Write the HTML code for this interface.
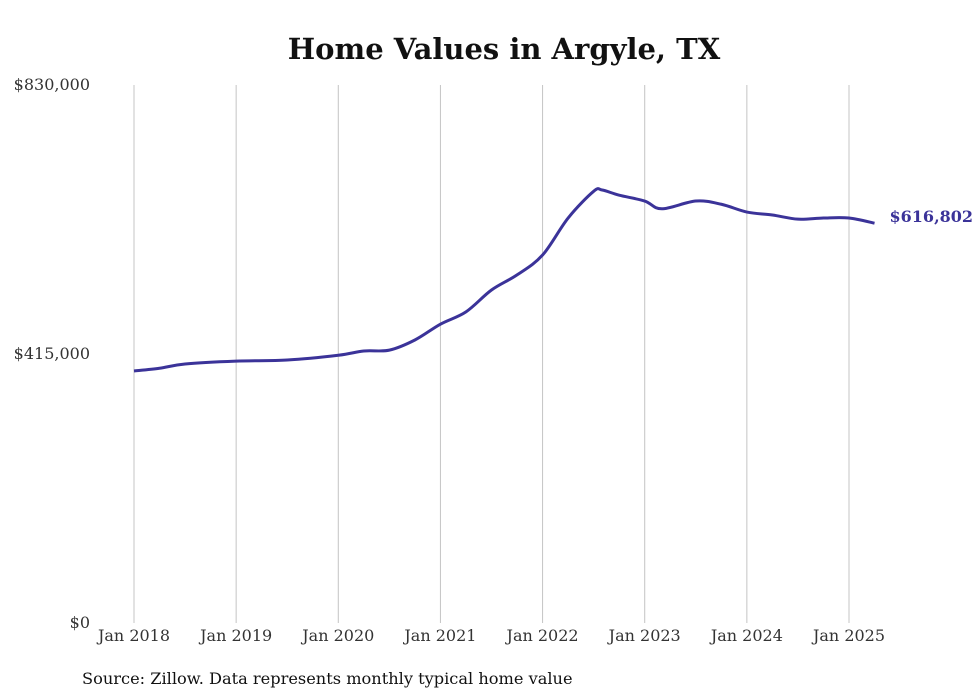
<!DOCTYPE html>
<html><head><meta charset="utf-8"><style>
html,body{margin:0;padding:0;background:#fff;}
svg{display:block;font-family:"DejaVu Serif","Liberation Serif",serif;}
</style></head><body>
<svg width="980" height="699" viewBox="0 0 980 699">
<text x="504" y="59" text-anchor="middle" font-size="29" font-weight="bold" fill="#111">Home Values in Argyle, TX</text>
<g id="grid"></g><g id="yticks"></g><g id="xticks"></g>
<path id="line" fill="none" stroke="#3b3399" stroke-width="3" stroke-linejoin="round"/>
<text id="endlabel" font-size="16" font-weight="bold" fill="#3b3399"></text>
<text x="82" y="684" font-size="16.2" fill="#111">Source: Zillow. Data represents monthly typical home value</text>
</svg>
<script>
const months=[0,3,6,12,18,24,27,30,33,36,39,42,45,48,51,54,55,57,60,62,66,69,72,75,78,81,84,87];
const values=[388800,393000,399600,404000,405700,413000,419600,421000,436600,461000,480000,513700,537000,567700,624800,666000,668000,660000,651000,639000,651000,646000,634000,629400,623000,624800,624800,616802];
const yTicks=[0,415000,830000];
const yTickLabels=["$0","$415,000","$830,000"];
const xYears=["Jan 2018","Jan 2019","Jan 2020","Jan 2021","Jan 2022","Jan 2023","Jan 2024","Jan 2025"];
const NS="http://www.w3.org/2000/svg";
const x0=134,pxPerMonth=(849-134)/84,yTop=85,yBot=623,yMax=830000;
const X=m=>x0+m*pxPerMonth;
const Y=v=>yBot-v/yMax*(yBot-yTop);
const grid=document.getElementById('grid'),yt=document.getElementById('yticks'),xt=document.getElementById('xticks');
xYears.forEach((lab,i)=>{
  const x=X(i*12);
  const l=document.createElementNS(NS,'line');
  l.setAttribute('x1',x);l.setAttribute('x2',x);l.setAttribute('y1',yTop);l.setAttribute('y2',yBot);
  l.setAttribute('stroke','#c4c4c4');l.setAttribute('stroke-width','1');
  
  
  grid.appendChild(l);
  const t=document.createElementNS(NS,'text');
  t.setAttribute('x',x);t.setAttribute('y',641);t.setAttribute('text-anchor','middle');
  t.setAttribute('font-size','16');t.setAttribute('fill','#333');
  t.textContent=lab;
  
  
  xt.appendChild(t);
});
yTicks.forEach((v,i)=>{
  const t=document.createElementNS(NS,'text');
  t.setAttribute('x',90);t.setAttribute('y',Y(v)+5);t.setAttribute('text-anchor','end');
  t.setAttribute('font-size','16');t.setAttribute('fill','#333');
  t.textContent=yTickLabels[i];
  
  
  yt.appendChild(t);
});
const pts=months.map((m,i)=>[X(m),Y(values[i])]);
let d='M'+pts[0][0]+','+pts[0][1];
for(let i=0;i<pts.length-1;i++){
  const p0=pts[Math.max(0,i-1)],p1=pts[i],p2=pts[i+1],p3=pts[Math.min(pts.length-1,i+2)];
  const c1=[p1[0]+(p2[0]-p0[0])/6,p1[1]+(p2[1]-p0[1])/6];
  const c2=[p2[0]-(p3[0]-p1[0])/6,p2[1]-(p3[1]-p1[1])/6];
  d+=` C${c1[0]},${c1[1]} ${c2[0]},${c2[1]} ${p2[0]},${p2[1]}`;
}
document.getElementById('line').setAttribute('d',d);
const last=pts[pts.length-1],el=document.getElementById('endlabel');
el.setAttribute('x',last[0]+15);el.setAttribute('y',last[1]-1);
el.textContent='$'+values[values.length-1].toLocaleString('en-US');
</script>
</body></html>
